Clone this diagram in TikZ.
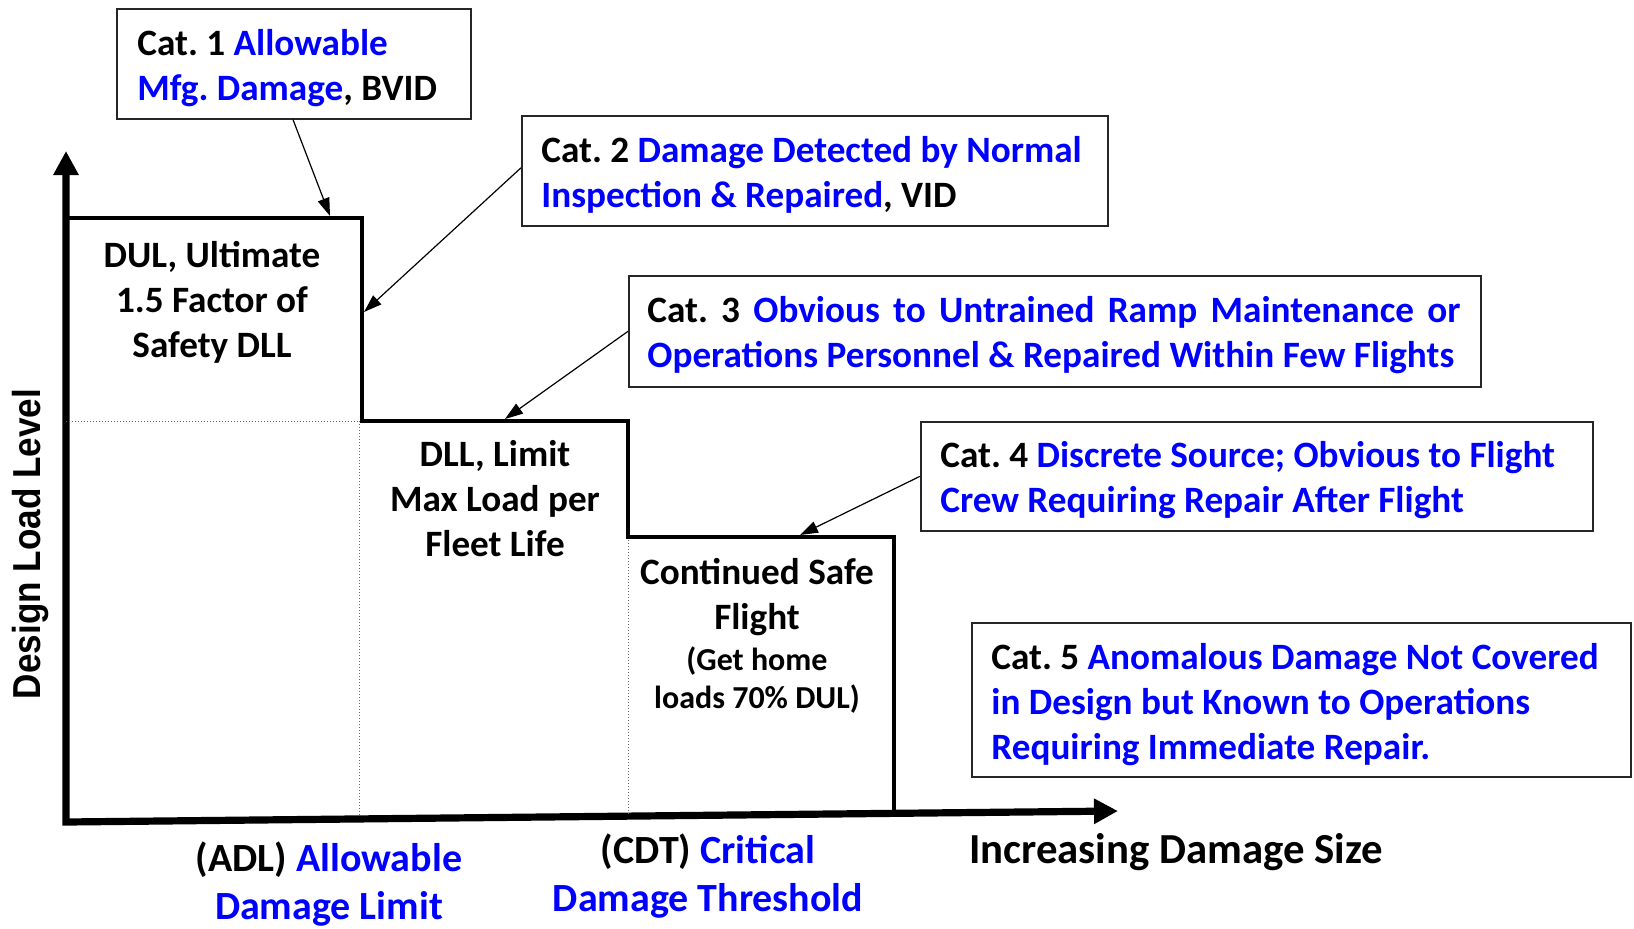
\documentclass[tikz,border=0pt]{standalone}
\usepackage{fontspec}
\setmainfont{Carlito}
\newfontfamily\arialfont{Liberation Sans}
\usetikzlibrary{arrows.meta,calc}
\definecolor{tblue}{RGB}{0,0,255}
\newcommand\catfont{\fontsize{18.6}{22.4}\selectfont\bfseries}
\newcommand\plotfont{\fontsize{18.6}{22.5}\selectfont\bfseries}
\newcommand\smallcatfont{\fontsize{16}{19.3}\selectfont\bfseries}
\newcommand\axlfont{\fontsize{20}{24}\selectfont\bfseries}
\newcommand\blu[1]{\textcolor{tblue}{#1}}
\tikzset{
 catbox/.style={draw=black!85, line width=0.8pt, anchor=north west, inner sep=0pt},
 cattext/.style={anchor=west, align=left, inner sep=0pt, font=\catfont},
 lbl/.style={align=center, font=\plotfont, inner sep=0pt},
 conn/.style={line width=0.6pt, -{Triangle[length=9pt,width=6pt]}},
 stepline/.style={line width=2.2pt, line join=miter},
 axisline/.style={line width=3.6pt, line join=miter},
 guide/.style={black!60, line width=0.5pt, densely dotted},
}
\begin{document}
\frenchspacing
\begin{tikzpicture}[x=0.5pt,y=-0.5pt]
\useasboundingbox (0,0) rectangle (1634,928);
% axes
\draw[axisline, {Triangle[length=12pt,width=12pt]}-{Triangle[length=12pt,width=12pt]}] (66,151) -- (66,822) -- (1118,811);
% guides
\draw[guide] (66,421) -- (359,421);
\draw[guide] (359,421) -- (359,817);
\draw[guide] (628,537) -- (628,814);
% step
\draw[stepline] (66,218) -- (362,218) -- (362,421) -- (628,421) -- (628,537) -- (894,537) -- (894,813);
% target coordinates
\coordinate (t1) at (330,216);
\coordinate (t2) at (364,312);
\coordinate (t3) at (505,419);
\coordinate (t4) at (800,535);
% boxes
\node[catbox, minimum width=177pt, minimum height=55pt] (c1) at (116,8) {};
\node[catbox, minimum width=293pt, minimum height=55pt] (c2) at (521,115) {};
\node[catbox, minimum width=426pt, minimum height=55.5pt] (c3) at (628,275) {};
\node[catbox, minimum width=336pt, minimum height=54.5pt] (c4) at (920,421) {};
\node[catbox, minimum width=329.5pt, minimum height=77pt] (c5) at (971,622) {};
% box texts
\node[cattext] (c1t) at ($(c1.west)+(21,4)$)
 {Cat. 1 \blu{Allowable}\\ \blu{Mfg. Damage}, BVID};
\node[cattext] (c2t) at ($(c2.west)+(20,4)$)
 {Cat. 2 \blu{Damage Detected by Normal}\\ \blu{Inspection \& Repaired}, VID};
\node[cattext] (c3t) at ($(c3.west)+(19,4)$)
 {\makebox[406.5pt][s]{Cat. 3 \blu{Obvious to Untrained Ramp Maintenance or}}\\ \blu{Operations Personnel \& Repaired Within Few Flights}};
\node[cattext] (c4t) at ($(c4.west)+(20,4)$)
 {Cat. 4 \blu{Discrete Source; Obvious to Flight}\\ \blu{Crew Requiring Repair After Flight}};
\node[cattext] (c5t) at ($(c5.west)+(20,5)$)
 {Cat. 5 \blu{Anomalous Damage Not Covered}\\ \blu{in Design but Known to Operations}\\ \blu{Requiring Immediate Repair.}};
% connectors
\draw[conn] ($(c1.south west)+(177,0)$) -- (t1);
\draw[conn] ($(c2.west)+(0,-3)$) -- (t2);
\draw[conn] (c3.west) -- (t3);
\draw[conn] (c4.west) -- (t4);
% region labels
\node[lbl] (dul) at (212,302) {DUL, Ultimate\\ 1.5 Factor of\\ Safety DLL};
\node[lbl] (dll) at (495,499) {DLL, Limit\\ Max Load per\\ Fleet Life};
\node[lbl] (csf) at (757,597) {Continued Safe\\ Flight};
\node[lbl, font=\smallcatfont] (gh) at (757,680) {(Get home\\ loads 70\% DUL)};
% axis labels
\node[lbl, font=\axlfont] (adl) at (329,884) {(ADL) \blu{Allowable}\\ \blu{Damage Limit}};
\node[lbl, font=\axlfont] (cdt) at (708,876) {(CDT) \blu{Critical}\\ \blu{Damage Threshold}};
\node[lbl, font=\fontsize{21.4}{26}\selectfont\bfseries] (inc) at (1176,852) {Increasing Damage Size};
\node[inner sep=0pt, rotate=90, font=\arialfont\bfseries\fontsize{19.5}{22}\selectfont] (dll2) at (31,544) {\scalebox{0.9}[1]{Design Load Level}};
\end{tikzpicture}
\end{document}
